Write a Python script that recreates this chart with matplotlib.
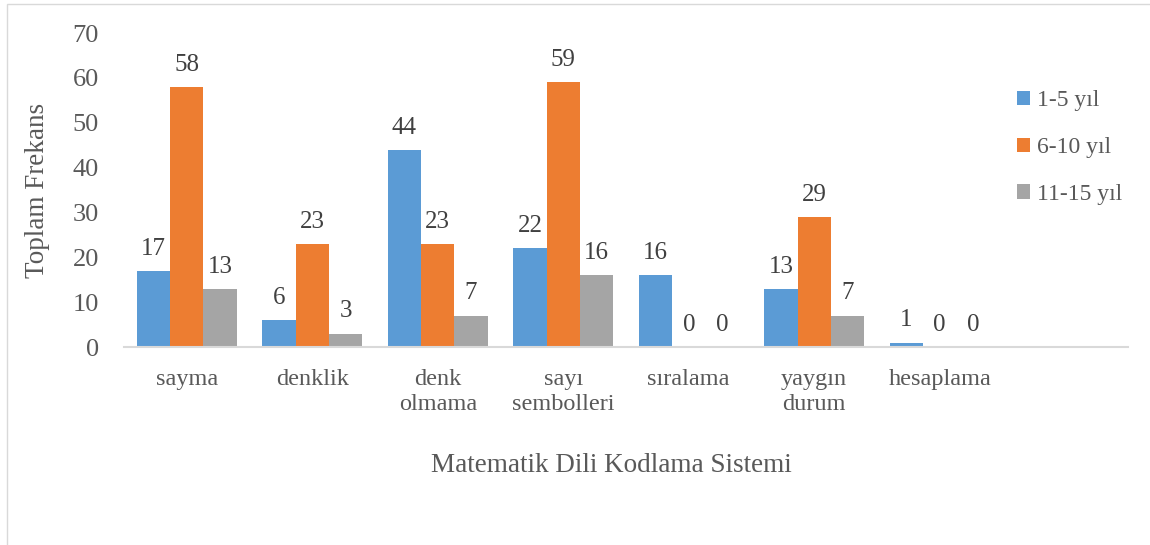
import numpy as np
import matplotlib
matplotlib.use("Agg")
import matplotlib.pyplot as plt
from matplotlib.patches import Rectangle

plt.rcParams.update({
    "font.family": ["Liberation Serif", "DejaVu Serif"],
    "text.color": "#595959",
    "axes.labelcolor": "#595959",
    "xtick.color": "#595959",
    "ytick.color": "#595959",
})

categories = ["sayma", "denklik", "denk\nolmama", "sayı\nsembolleri",
              "sıralama", "yaygın\ndurum", "hesaplama", ""]
series_names = ["1-5 yıl", "6-10 yıl", "11-15 yıl"]
vals_1_5 = [17, 6, 44, 22, 16, 13, 1]
vals_6_10 = [58, 23, 23, 59, 0, 29, 0]
vals_11_15 = [13, 3, 7, 16, 0, 7, 0]
COLORS = ["#5B9BD5", "#ED7D31", "#A5A5A5"]

fig = plt.figure(figsize=(11.5, 5.45), dpi=100)
# chart border (Excel chart area)
fig.patches.append(Rectangle((7 / 1150, -0.01), 1.1, 1 - 4 / 545 + 0.01,
                             transform=fig.transFigure, fill=False,
                             edgecolor="#D9D9D9", lw=1.0))

ax = fig.add_axes([124 / 1150, 1 - 347 / 545, (1128 - 124) / 1150, (347 - 33) / 545])

x = np.arange(len(categories))
w = 0.265
all_vals = [vals_1_5, vals_6_10, vals_11_15]
for i, (vals, name, col) in enumerate(zip(all_vals, series_names, COLORS)):
    xs = x[:len(vals)] + (i - 1) * w
    ax.bar(xs, vals, width=w, color=col, label=name, zorder=2)
    for xx, v in zip(xs, vals):
        ax.annotate(str(v), (xx, v), xytext=(0, 8), textcoords="offset points",
                    ha="center", va="bottom", fontsize=18, color="#404040")

ax.set_xlim(-0.5, len(categories) - 0.5)
ax.set_ylim(0, 70)
ax.set_yticks(range(0, 71, 10))
ax.set_xticks(x)
ax.set_xticklabels(categories, fontsize=17.5, linespacing=1.25)
ax.tick_params(axis="y", labelsize=19, length=0, pad=18)
ax.tick_params(axis="x", length=0, pad=16)

for s in ["top", "right", "left"]:
    ax.spines[s].set_visible(False)
ax.spines["bottom"].set_color("#D9D9D9")
ax.spines["bottom"].set_linewidth(1.5)

ax.set_ylabel("Toplam Frekans", fontsize=19.5, labelpad=16)
fig.text(611 / 1150, 1 - 466 / 545, "Matematik Dili Kodlama Sistemi",
         ha="center", va="center", fontsize=19.5, color="#595959")

ax.legend(loc="upper left", bbox_to_anchor=(1017 / 1150, 1 - 90 / 545),
          bbox_transform=fig.transFigure, frameon=False, fontsize=17,
          borderpad=0, borderaxespad=0,
          handlelength=0.55, handleheight=0.55, handletextpad=0.3,
          labelspacing=1.1)

fig.savefig("out.png", dpi=100)
